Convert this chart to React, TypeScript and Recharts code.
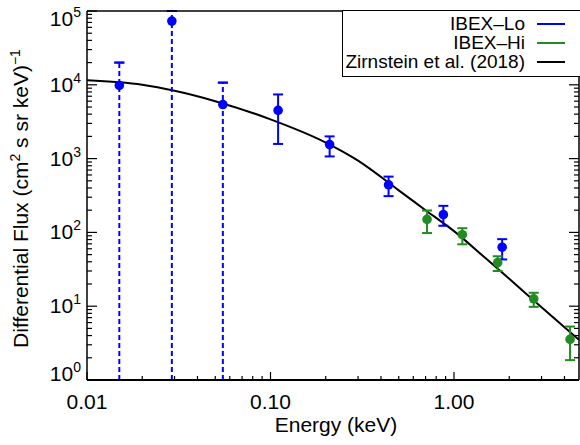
import React from 'react';
import { ComposedChart, Line, Scatter, XAxis, YAxis, ErrorBar, Label } from 'recharts';

// IBEX-Lo (blue); lower bound 0 means the bar runs down to the axis
const loEnergy = [0.015, 0.029, 0.055, 0.11, 0.21, 0.44, 0.875, 1.83];
const loFlux = [9800, 73000, 5400, 4500, 1550, 440, 174, 63];
const loUpper = [20000, 150000, 10700, 7400, 2000, 570, 229, 81];
const loLower = [0, 0, 0, 1580, 1070, 310, 123, 43];

// IBEX-Hi (green)
const hiEnergy = [0.713, 1.11, 1.73, 2.72, 4.29];
const hiFlux = [150, 93, 39, 12.6, 3.55];
const hiUpper = [198, 114, 47.5, 15.2, 5.3];
const hiLower = [98, 69, 30, 9.8, 1.86];

// Zirnstein et al. (2018) model curve
const modelEnergy = [0.01, 0.02, 0.03, 0.05, 0.1, 0.2, 0.3, 0.5, 0.7, 1.0, 1.5, 2.0, 3.0, 4.0, 4.8];
const modelFlux = [11500, 10000, 8300, 6000, 3400, 1650, 940, 371, 200, 104, 43.8, 23.5, 9.7, 5.2, 3.5];

const xDecades = [0.01, 0.1, 1];
const yDecades = [1, 10, 100, 1000, 10000, 100000];
const X_MIN = 0.01;
const X_MAX = 4.8;
const Y_MIN = 1;
const Y_MAX = 100000;

const FONT = '"Liberation Sans", Arial, Helvetica, sans-serif';
const BLUE = '#0000ff';
const GREEN = '#228b22';

const xTicks: number[] = [];
xDecades.forEach(d => {
  for (let m = 1; m <= 9; m++) {
    const v = +(d * m).toPrecision(6);
    if (v <= X_MAX) xTicks.push(v);
  }
});
const yTicks: number[] = [];
yDecades.forEach(d => {
  for (let m = 1; m <= 9; m++) {
    const v = d * m;
    if (v <= Y_MAX) yTicks.push(v);
  }
});

// bars are cut at the plot frame, error bars are not clipped by recharts
const loPoints = loEnergy.map((e, i) => {
  const hi = Math.min(loUpper[i], Y_MAX);
  const lo = Math.max(loLower[i], Y_MIN);
  return {
    energy: e,
    flux: loFlux[i],
    err: [loFlux[i] - lo, hi - loFlux[i]],
    cap: [loFlux[i] - hi, hi - loFlux[i]],
  };
});
const loLimits = loPoints.filter((_, i) => loLower[i] === 0);
const loMeasured = loPoints.filter((_, i) => loLower[i] > 0);

const hiPoints = hiEnergy.map((e, i) => ({
  energy: e,
  flux: hiFlux[i],
  err: [hiFlux[i] - hiLower[i], hiUpper[i] - hiFlux[i]],
}));

const modelPoints = modelEnergy.map((e, i) => ({ energy: e, flux: modelFlux[i] }));

const XTick = (props: any) => {
  const { x, y, payload, side } = props;
  const major = xDecades.includes(payload.value);
  const len = major ? 8 : 4;
  const dir = side === 'top' ? 1 : -1;
  return (
    <g>
      <line x1={x} y1={y} x2={x} y2={y + dir * len} stroke="#000" strokeWidth={1.2} />
      {major && side !== 'top' && (
        <text x={x} y={y + 29} textAnchor="middle" fontSize={21} fontFamily={FONT} fill="#000">
          {payload.value.toFixed(2)}
        </text>
      )}
    </g>
  );
};

const YTick = (props: any) => {
  const { x, y, payload, side } = props;
  const v = payload.value;
  const major = yDecades.includes(v);
  const len = major ? 10 : 5;
  const dir = side === 'right' ? -1 : 1;
  const exp = Math.round(Math.log10(v));
  let shift = 7;
  if (v === Y_MAX) shift = 15;
  if (v === Y_MIN) shift = 1;
  return (
    <g>
      <line x1={x} y1={y} x2={x + dir * len} y2={y} stroke="#000" strokeWidth={1.2} />
      {major && side !== 'right' && (
        <text x={x - 6} y={y + shift} textAnchor="end" fontSize={21} fontFamily={FONT} fill="#000">
          10<tspan dy={-9} fontSize={14}>{exp}</tspan>
        </text>
      )}
    </g>
  );
};

const Dot = (color: string) => (p: any) => <circle cx={p.cx} cy={p.cy} r={4.8} fill={color} />;

const legendRows = [
  { name: 'IBEX\u2013Lo', color: BLUE, cy: 24 },
  { name: 'IBEX\u2013Hi', color: GREEN, cy: 43 },
  { name: 'Zirnstein et al. (2018)', color: '#000', cy: 62 },
];

export default function App() {
  return (
    <div style={{ position: 'absolute', left: 0, top: 0, width: 580, height: 445, overflow: 'hidden', background: '#fff' }}>
      <ComposedChart width={580} height={445} margin={{ top: 10, right: 0, bottom: 0, left: 0 }}>
        <XAxis
          dataKey="energy"
          type="number"
          scale="log"
          domain={[X_MIN, X_MAX]}
          allowDataOverflow
          ticks={xTicks}
          interval={0}
          height={65}
          tickSize={0}
          tickMargin={0}
          tickLine={false}
          axisLine={{ stroke: '#000', strokeWidth: 1.8 }}
          tick={(p: any) => <XTick {...p} side="bottom" />}
        >
          <Label
            content={(lp: any) => (
              <text
                x={lp.viewBox.x + lp.viewBox.width / 2 + 3}
                y={lp.viewBox.y + 52}
                textAnchor="middle"
                fontSize={21}
                fontFamily={FONT}
                fill="#000"
              >
                Energy (keV)
              </text>
            )}
          />
        </XAxis>
        <XAxis
          xAxisId="top"
          orientation="top"
          type="number"
          scale="log"
          domain={[X_MIN, X_MAX]}
          allowDataOverflow
          ticks={xTicks}
          interval={0}
          height={1}
          tickSize={0}
          tickMargin={0}
          tickLine={false}
          axisLine={{ stroke: '#000', strokeWidth: 1.5 }}
          tick={(p: any) => <XTick {...p} side="top" />}
        />
        <YAxis
          type="number"
          scale="log"
          domain={[Y_MIN, Y_MAX]}
          allowDataOverflow
          ticks={yTicks}
          interval={0}
          width={87}
          tickSize={0}
          tickMargin={0}
          tickLine={false}
          axisLine={{ stroke: '#000', strokeWidth: 1.5 }}
          tick={(p: any) => <YTick {...p} side="left" />}
        >
          <Label
            content={(lp: any) => {
              const cx = 28;
              const cy = lp.viewBox.y + lp.viewBox.height / 2 + 3;
              return (
                <text
                  x={cx}
                  y={cy}
                  transform={`rotate(-90, ${cx}, ${cy})`}
                  textAnchor="middle"
                  fontSize={21}
                  fontFamily={FONT}
                  fill="#000"
                >
                  Differential Flux (cm<tspan dy={-8} fontSize={14}>2</tspan>
                  <tspan dy={8}> s sr keV)</tspan>
                  <tspan dy={-8} fontSize={14}>{'\u22121'}</tspan>
                </text>
              );
            }}
          />
        </YAxis>
        <YAxis
          yAxisId="right"
          orientation="right"
          type="number"
          scale="log"
          domain={[Y_MIN, Y_MAX]}
          allowDataOverflow
          ticks={yTicks}
          interval={0}
          width={1}
          tickSize={0}
          tickMargin={0}
          tickLine={false}
          axisLine={{ stroke: '#000', strokeWidth: 1.5 }}
          tick={(p: any) => <YTick {...p} side="right" />}
        />
        <Line
          data={modelPoints}
          dataKey="flux"
          type="monotone"
          stroke="#000"
          strokeWidth={2}
          dot={false}
          isAnimationActive={false}
        />
        <Scatter data={loLimits} dataKey="flux" fill={BLUE} shape={Dot(BLUE)} isAnimationActive={false}>
          <ErrorBar dataKey="err" direction="y" width={0} stroke={BLUE} strokeWidth={2} strokeDasharray="5 3" />
          <ErrorBar dataKey="cap" direction="y" width={5} stroke={BLUE} strokeWidth={2} />
        </Scatter>
        <Scatter data={loMeasured} dataKey="flux" fill={BLUE} shape={Dot(BLUE)} isAnimationActive={false}>
          <ErrorBar dataKey="err" direction="y" width={5} stroke={BLUE} strokeWidth={2} />
        </Scatter>
        <Scatter data={hiPoints} dataKey="flux" fill={GREEN} shape={Dot(GREEN)} isAnimationActive={false}>
          <ErrorBar dataKey="err" direction="y" width={5} stroke={GREEN} strokeWidth={2} />
        </Scatter>
      </ComposedChart>
      <div
        style={{
          position: 'absolute',
          left: 342,
          top: 10,
          width: 260,
          height: 67,
          border: '1px solid #000',
          boxSizing: 'border-box',
          background: '#fff',
        }}
      />
      {legendRows.map(r => (
        <React.Fragment key={r.name}>
          <div
            style={{
              position: 'absolute',
              right: 55,
              top: r.cy - 10,
              height: 20,
              lineHeight: '20px',
              fontSize: 19,
              fontFamily: FONT,
              color: '#000',
              whiteSpace: 'nowrap',
            }}
          >
            {r.name}
          </div>
          <div style={{ position: 'absolute', left: 537, top: r.cy - 1, width: 28, height: 2, background: r.color }} />
        </React.Fragment>
      ))}
    </div>
  );
}
